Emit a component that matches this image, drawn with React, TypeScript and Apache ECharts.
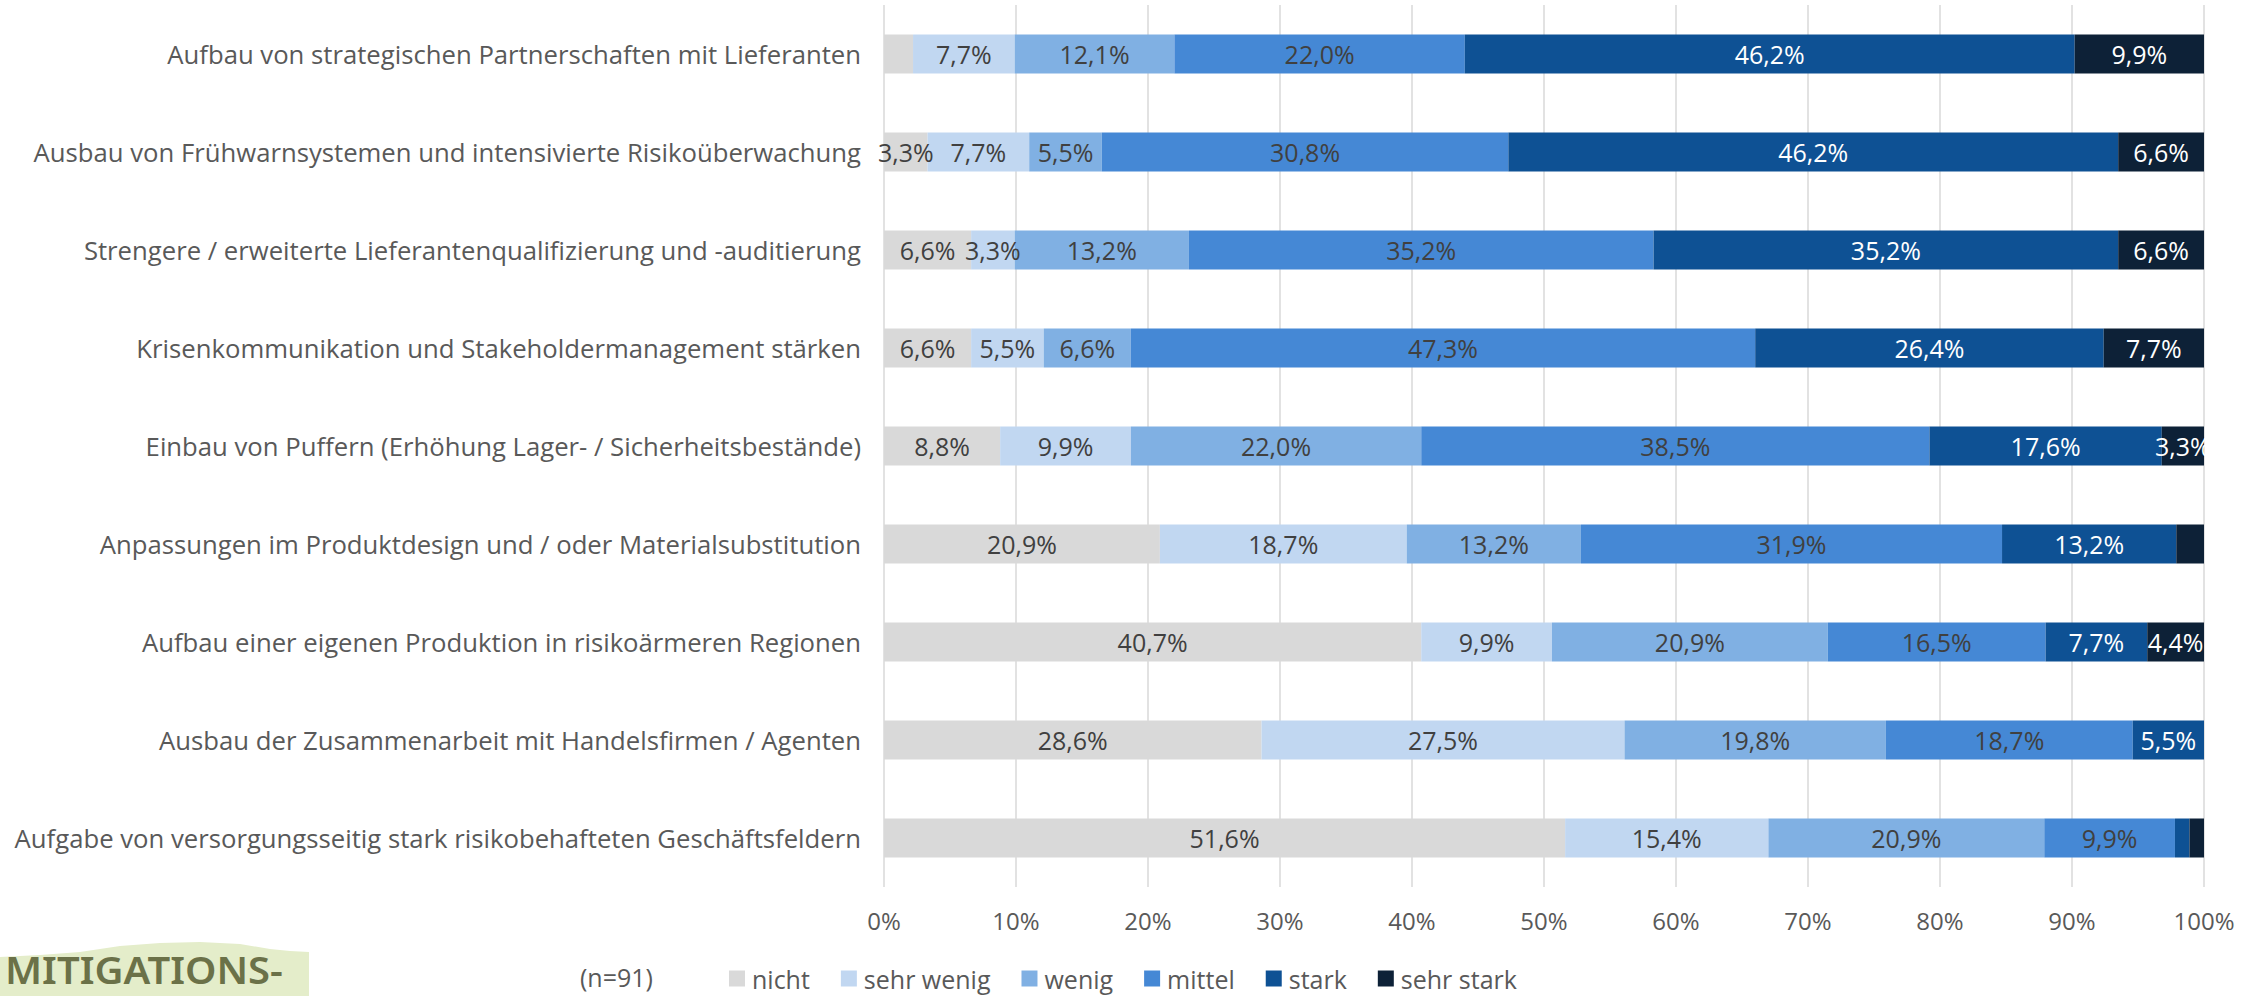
import React, { useEffect, useRef } from "react";
import * as echarts from "echarts";

const categories = [
  "Aufbau von strategischen Partnerschaften mit Lieferanten",
  "Ausbau von Frühwarnsystemen und intensivierte Risikoüberwachung",
  "Strengere / erweiterte Lieferantenqualifizierung und -auditierung",
  "Krisenkommunikation und Stakeholdermanagement stärken",
  "Einbau von Puffern (Erhöhung Lager- / Sicherheitsbestände)",
  "Anpassungen im Produktdesign und / oder Materialsubstitution",
  "Aufbau einer eigenen Produktion in risikoärmeren Regionen",
  "Ausbau der Zusammenarbeit mit Handelsfirmen / Agenten",
  "Aufgabe von versorgungsseitig stark risikobehafteten Geschäftsfeldern",
];

const seriesNames = ["nicht", "sehr wenig", "wenig", "mittel", "stark", "sehr stark"];

const nicht = [2.2, 3.3, 6.6, 6.6, 8.8, 20.9, 40.7, 28.6, 51.6];
const sehrWenig = [7.7, 7.7, 3.3, 5.5, 9.9, 18.7, 9.9, 27.5, 15.4];
const wenig = [12.1, 5.5, 13.2, 6.6, 22.0, 13.2, 20.9, 19.8, 20.9];
const mittel = [22.0, 30.8, 35.2, 47.3, 38.5, 31.9, 16.5, 18.7, 9.9];
const stark = [46.2, 46.2, 35.2, 26.4, 17.6, 13.2, 7.7, 5.5, 1.1];
const sehrStark = [9.9, 6.6, 6.6, 7.7, 3.3, 2.2, 4.4, 0, 1.1];

const sampleNote = "(n=91)";
const logoText = "MITIGATIONS-";

const seriesValues = [nicht, sehrWenig, wenig, mittel, stark, sehrStark];
const colors = ["#d9d9d9", "#c1d7f1", "#80b0e3", "#4588d5", "#0e5194", "#0d2137"];
const labelColors = ["#404040", "#404040", "#404040", "#404040", "#ffffff", "#ffffff"];

const FONT = "'Open Sans', 'Noto Sans', sans-serif";

const fmt = (v: number) => v.toFixed(1).replace(".", ",") + "%";

export default function App() {
  const ref = useRef<HTMLDivElement>(null);

  useEffect(() => {
    if (!ref.current) return;
    const chart = echarts.init(ref.current, undefined, { renderer: "svg" });

    const series = seriesValues.map((vals, si) => ({
      name: seriesNames[si],
      type: "bar",
      stack: "total",
      barWidth: 39,
      itemStyle: { color: colors[si] },
      label: {
        show: true,
        position: "inside",
        color: labelColors[si],
        fontSize: 25,
        fontFamily: FONT,
        formatter: (p: any) => fmt(p.value),
      },
      data: vals.map((v) => ({ value: v, label: { show: v >= 3 } })),
    }));

    chart.setOption({
      animation: false,
      textStyle: { fontFamily: FONT },
      grid: { left: 884, right: 57, top: 5, bottom: 109, containLabel: false },
      xAxis: {
        type: "value",
        min: 0,
        max: 100,
        interval: 10,
        axisLine: { show: false },
        axisTick: { show: false },
        axisLabel: {
          formatter: "{value}%",
          fontSize: 24,
          color: "#595959",
          margin: 21,
          fontFamily: FONT,
        },
        splitLine: { show: true, lineStyle: { color: "#d9d9d9", width: 1.5 } },
      },
      yAxis: {
        type: "category",
        inverse: true,
        data: categories,
        axisLine: { show: false },
        axisTick: { show: false },
        axisLabel: {
          fontSize: 25.7,
          color: "#595959",
          margin: 23,
          fontFamily: FONT,
        },
      },
      legend: {
        data: seriesNames,
        left: 724,
        top: 961,
        icon: "rect",
        itemWidth: 16,
        itemHeight: 16,
        itemGap: 31,
        textStyle: { fontSize: 25, color: "#595959", fontFamily: FONT, padding: [0, 0, 0, 2] },
      },
      graphic: [
        {
          type: "polygon",
          shape: {
            points: [
              [0, 957],
              [40, 955],
              [80, 952],
              [120, 946],
              [160, 943],
              [200, 942],
              [240, 944],
              [270, 949],
              [290, 951],
              [309, 952],
              [309, 996],
              [0, 996],
            ],
          },
          style: { fill: "#e4edca" },
          silent: true,
        },
        {
          type: "text",
          x: 5,
          y: 970,
          scaleX: 1.08,
          style: {
            text: logoText,
            fill: "#6b7148",
            fontSize: 37,
            fontWeight: 600,
            fontFamily: "'Noto Sans', sans-serif",
            verticalAlign: "middle",
            align: "left",
          },
          silent: true,
        },
        {
          type: "text",
          x: 580,
          y: 977,
          style: {
            text: sampleNote,
            fill: "#595959",
            fontSize: 25,
            fontFamily: FONT,
            verticalAlign: "middle",
            align: "left",
          },
          silent: true,
        },
      ],
      series,
    });

    return () => chart.dispose();
  }, []);

  return (
    <div
      ref={ref}
      style={{ position: "absolute", left: 0, top: 0, width: 2261, height: 996, background: "#ffffff" }}
    />
  );
}
